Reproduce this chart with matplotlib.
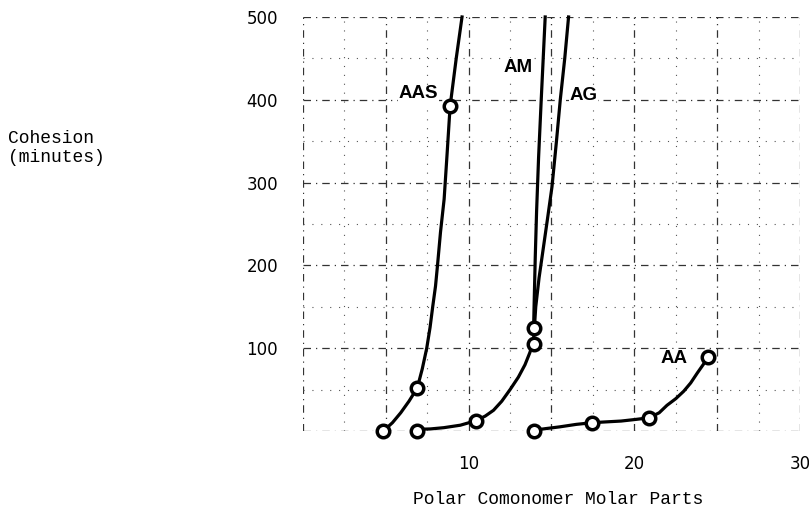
import numpy as np
import matplotlib
matplotlib.use("Agg")
import matplotlib.pyplot as plt

aas_x = [4.85, 6.9, 8.88]
aas_y = [0, 52, 392]
ag_x = [6.9, 10.45, 13.92]
ag_y = [0, 12.5, 105]
am_x = [13.92]
am_y = [124]
aa_x = [13.95, 17.45, 20.9, 24.45]
aa_y = [0, 10, 16, 89]

# hand drawn curves
aas_cx = [4.6, 4.85, 5.4, 5.9, 6.4, 6.9, 7.2, 7.47, 7.67, 7.83, 8.0, 8.12, 8.3, 8.52, 8.7, 8.88, 9.25, 9.6]
aas_cy = [-4, 0, 10, 22, 36, 52, 75, 100, 125, 150, 175, 200, 240, 280, 335, 392, 450, 500]
ag_cx = [6.9, 7.7, 8.5, 9.5, 10.45, 11.0, 11.5, 12.0, 12.5, 13.0, 13.4, 13.7, 13.92, 14.05, 14.25, 14.5, 14.75, 15.03, 15.3, 15.53, 15.8, 16.03]
ag_cy = [2, 2.5, 4, 7, 12.5, 18, 25, 36, 50, 65, 80, 95, 110, 150, 185, 220, 255, 295, 350, 400, 450, 500]
am_cx = [13.92, 13.96, 14.02, 14.1, 14.22, 14.38, 14.5, 14.62]
am_cy = [124, 160, 210, 265, 330, 400, 450, 500]
aa_cx = [13.95, 14.7, 15.5, 16.5, 17.45, 18.3, 19.2, 20.1, 20.9, 21.5, 21.97, 22.5, 22.98, 23.4, 23.8, 24.15, 24.45]
aa_cy = [1, 3, 5, 8, 10, 11, 12, 14, 16, 22, 31, 39, 48, 58, 70, 80, 89]

labels = ['AAS', 'AM', 'AG', 'AA']
label_x = [6.97, 13.0, 16.94, 22.37]
label_y = [407, 439, 405, 88]

fig = plt.figure(figsize=(8.09, 5.14), dpi=100)
ax = fig.add_axes([0.3745, 0.1615, 0.6144, 0.8055])
ax.set_xlim(0, 30)
ax.set_ylim(0, 500)

for s in ax.spines.values():
    s.set_visible(False)

ax.set_xticks(np.arange(0, 31, 5))
ax.set_xticklabels(['', '', '10', '', '20', '', '30'])
ax.set_yticks(np.arange(0, 501, 100))
ax.set_yticklabels(['', '100', '200', '300', '400', '500'])
ax.set_xticks(np.arange(2.5, 30, 5), minor=True)
ax.set_yticks(np.arange(50, 500, 50), minor=True)
ax.tick_params(which='both', length=0)
ax.tick_params(axis='y', pad=18, labelsize=12)
ax.tick_params(axis='x', pad=17, labelsize=12)
ax.grid(which='major', color='#333333', lw=0.9, ls=(0, (6, 4, 1, 4)))
ax.grid(which='minor', color='#555555', lw=0.8, ls=(0, (1, 7)))
ax.set_axisbelow(True)

lw = 2.3
for cx, cy in [(aas_cx, aas_cy), (ag_cx, ag_cy), (am_cx, am_cy), (aa_cx, aa_cy)]:
    ax.plot(cx, cy, color='black', lw=lw, clip_on=False, solid_joinstyle='round')

for xs, ys in [(aas_x, aas_y), (ag_x, ag_y), (am_x, am_y), (aa_x, aa_y)]:
    ax.plot(xs, ys, 'o', ms=9, mfc='white', mec='black', mew=2.5, clip_on=False, zorder=5)

for t, x, y in zip(labels, label_x, label_y):
    ax.text(x, y, t, fontsize=13.5, fontweight='heavy', ha='center', va='center',
            family='Liberation Sans', zorder=6,
            bbox=dict(facecolor='white', edgecolor='none', pad=0.5))

fig.text(8 / 809, 1 - 148 / 514, 'Cohesion\n(minutes)', family='Liberation Mono',
         fontsize=13, ha='left', va='center', linespacing=1.1)
fig.text(558 / 809, 1 - 500 / 514, 'Polar Comonomer Molar Parts', family='Liberation Mono',
         fontsize=13, ha='center', va='center')

fig.savefig('out.png', dpi=100)
